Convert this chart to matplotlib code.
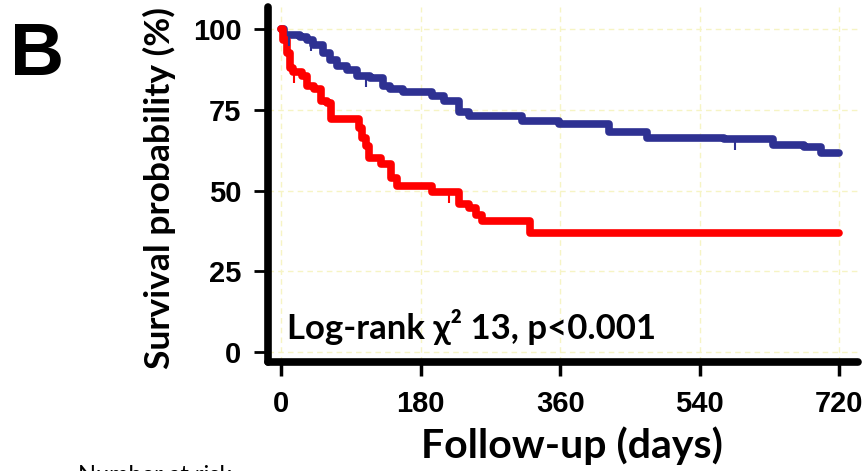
import matplotlib
matplotlib.use("Agg")
import matplotlib.pyplot as plt
import numpy as np
from matplotlib.path import Path

# Kaplan-Meier steps (days, survival %)
blue_t = [0, 4, 24, 33, 41, 54, 63, 72, 85, 98, 115, 131, 140, 157, 195, 210, 230,
          242, 311, 358, 423, 472, 571, 635, 674, 696, 720]
blue_s = [100, 98.3, 97.7, 96.7, 95.1, 92.6, 90.4, 88.8, 87.3, 85.7, 84.8, 82.6, 81.6,
          80.6, 79.4, 77.8, 74.4, 73.2, 71.6, 70.6, 68.2, 66.5, 66.0, 64.1, 63.5, 61.6, 61.6]
red_t = [0, 3, 8, 12, 15, 27, 33, 43, 52, 59, 65, 101, 105, 110, 114, 129, 142, 149,
         195, 230, 243, 252, 259, 321, 720]
red_s = [100, 96.7, 92.6, 88.2, 86.7, 85.7, 82.6, 81.6, 77.9, 77.2, 72.2, 69.4, 66.3,
         63.8, 60.1, 58.3, 54.0, 51.6, 49.5, 46.0, 44.8, 42.4, 40.5, 36.8, 36.8]
blue_cens = [10, 39, 110, 585]
red_cens = [17, 217]

x_ticks = [0, 180, 360, 540, 720]
y_ticks = [0, 25, 50, 75, 100]

blue = "#2E3192"
red = "#FF0000"

fig = plt.figure(figsize=(8.64, 4.71), dpi=100)
ax = fig.add_axes([0.310, 0.2314, 0.683, 0.754])

ax.grid(True, color="#F6F4C4", linestyle=(0, (4, 3)), linewidth=1.0)
ax.set_axisbelow(True)

for t, s, c in [(blue_t, blue_s, blue), (red_t, red_s, red)]:
    ax.step(t, s, where="post", color=c, lw=5.5, solid_joinstyle="round",
            solid_capstyle="round", zorder=3)

# censor ticks hanging below the curve
tick_mark = Path([(0, 0), (0, -1)], [Path.MOVETO, Path.LINETO])
for t, s, cens, c in [(blue_t, blue_s, blue_cens, blue), (red_t, red_s, red_cens, red)]:
    idx = np.searchsorted(t, cens, side="right") - 1
    yv = np.array(s)[idx]
    ax.plot(cens, yv, linestyle="none", marker=tick_mark, markersize=16,
            mec=c, mfc="none", mew=1.5, zorder=3)

ax.set_xlim(-17, 744)
ax.set_ylim(-3.1, 107)
ax.set_xticks(x_ticks)
ax.set_yticks(y_ticks)

for side in ["top", "right"]:
    ax.spines[side].set_visible(False)
for side in ["left", "bottom"]:
    ax.spines[side].set_linewidth(5.5)
    ax.spines[side].set_capstyle("round")

ax.tick_params(axis="y", length=10, width=2, pad=9)
ax.tick_params(axis="x", length=10, width=2.5, pad=10)
for lab in ax.get_xticklabels() + ax.get_yticklabels():
    lab.set_fontfamily("Liberation Sans")
    lab.set_fontweight("bold")
    lab.set_fontsize(21)

ax.set_xlabel("Follow-up (days)", fontfamily="Lato", fontweight="bold", fontsize=29.5)
ax.xaxis.set_label_coords(0.515, -0.18)
ax.set_ylabel("Survival probability (%)", fontfamily="Lato", fontweight="bold", fontsize=25.5)
ax.yaxis.set_label_coords(-0.155, 0.49)

ax.text(8, 4, "Log-rank χ² 13, p<0.001", fontfamily="Lato", fontweight="bold",
        fontsize=25, ha="left", va="baseline")

fig.text(0.012, 0.955, "B", fontfamily="Liberation Sans", fontweight="bold", fontsize=54,
         ha="left", va="top")
fig.text(0.09, 0.013, "Number at risk", fontfamily="Lato", fontsize=17, ha="left", va="top")

fig.savefig("out.png", dpi=100)
